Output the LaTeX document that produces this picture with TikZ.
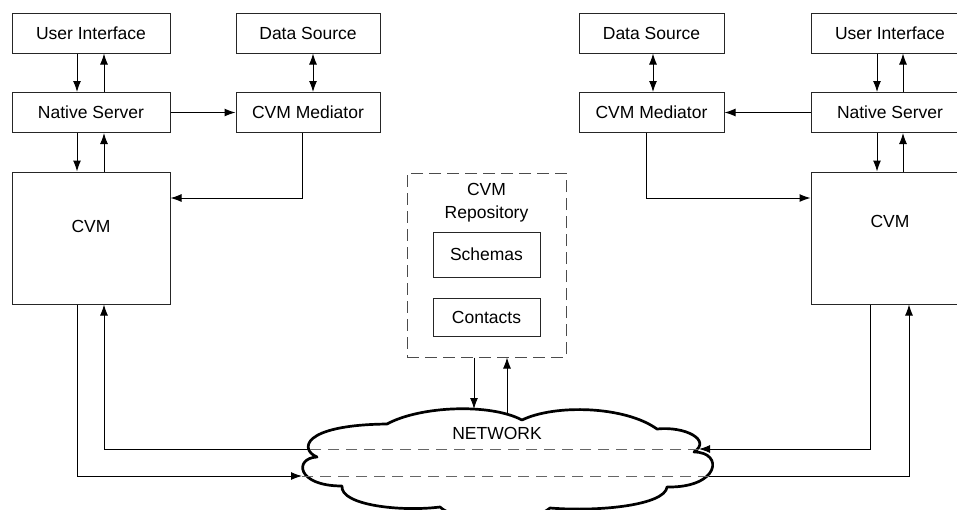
\documentclass[tikz,border=0pt]{standalone}
\usepackage{fontspec}
\setmainfont{Liberation Sans}
\usepackage{tikz}
\usetikzlibrary{arrows.meta}
\tikzset{
    mynode/.style={rectangle,draw=black!85,line width=1pt,fill=white,minimum width=158pt,minimum height=40pt,inner sep=0pt,text centered},
    mysmall/.style={mynode,minimum width=107pt},
    myarrow/.style={-{Latex[length=11pt,width=8pt]},line width=1pt},
    mydarrow/.style={{Latex[length=11pt,width=8pt]}-{Latex[length=11pt,width=8pt]},line width=1pt},
    mydash/.style={dash pattern=on 11pt off 7pt,draw=black!60,line width=1pt},
    mycloud/.style={draw=black,line width=2.7pt,fill=white,line join=round}
}

\begin{document}
\begin{tikzpicture}[x=1pt,y=-1pt,font=\fontsize{17.5}{23}\selectfont]
    \useasboundingbox (0,0) rectangle (957,509);
    \clip (0,0) rectangle (957,509);
    % left site
    \draw (91,33) node[mynode] (ui1) {User Interface};
    \draw (91,112.5) node[mynode] (ns1) {Native Server};
    \draw (91,238) node[mynode,minimum height=132pt,label={[yshift=12pt]center:CVM}] (cvm1) {};
    \draw (308,33) node[mynode,minimum width=144pt] (ds1) {Data Source};
    \draw (308,112.5) node[mynode,minimum width=144pt] (med1) {CVM Mediator};
    \draw[myarrow] ([xshift=-14pt]ui1.south) -- ([xshift=-14pt]ns1.north);
    \draw[myarrow] ([xshift=13pt]ns1.north) -- ([xshift=13pt]ui1.south);
    \draw[myarrow] ([xshift=-14pt]ns1.south) -- ([xshift=-14pt]cvm1.north);
    \draw[myarrow] ([xshift=13pt]cvm1.north) -- ([xshift=13pt]ns1.south);
    \draw[myarrow] (ns1) -- (med1);
    \draw[mydarrow] ([xshift=5pt]ds1.south) -- ([xshift=5pt]med1.north);
    \draw[myarrow] ([xshift=-6pt]med1.south) |- ([yshift=40pt]cvm1.east);
    % right site
    \draw (890,33) node[mynode] (ui2) {User Interface};
    \draw (890,112.5) node[mynode] (ns2) {Native Server};
    \draw (890,238) node[mynode,minimum height=132pt,label={[yshift=17pt]center:CVM}] (cvm2) {};
    \draw (651.5,33) node[mynode,minimum width=145pt] (ds2) {Data Source};
    \draw (651.5,112.5) node[mynode,minimum width=145pt] (med2) {CVM Mediator};
    \draw[myarrow] ([xshift=-13pt]ui2.south) -- ([xshift=-13pt]ns2.north);
    \draw[myarrow] ([xshift=13pt]ns2.north) -- ([xshift=13pt]ui2.south);
    \draw[myarrow] ([xshift=-13pt]ns2.south) -- ([xshift=-13pt]cvm2.north);
    \draw[myarrow] ([xshift=13pt]cvm2.north) -- ([xshift=13pt]ns2.south);
    \draw[myarrow] (ns2) -- (med2);
    \draw[mydarrow] ([xshift=1.5pt]ds2.south) -- ([xshift=1.5pt]med2.north);
    \draw[myarrow] ([xshift=-5.5pt]med2.south) |- ([yshift=40pt]cvm2.west);
    % repository
    \draw (486.5,265) node[mynode,dashed,dash pattern=on 12pt off 6pt,draw=black!70,minimum width=159pt,minimum height=184pt,
        label={[anchor=north,yshift=-11pt,inner sep=0pt,align=center]north:CVM\\Repository}] (repo) {};
    \draw (486.5,254.5) node[mysmall,minimum height=45pt] (schemas) {Schemas};
    \draw (486.5,317) node[mysmall,minimum height=38pt] (contacts) {Contacts};
    % network cloud
    \draw[mycloud] (387,424) .. controls (420,406) and (490,403) .. (522,420)
        .. controls (555,404) and (625,406) .. (657,429)
        .. controls (685,426) and (712,440) .. (694,452)
        .. controls (724,452) and (720,488) .. (667,487)
        .. controls (665,505) and (600,512) .. (550,508)
        .. controls (530,525) and (460,525) .. (440,507)
        .. controls (400,512) and (340,505) .. (342,486)
        .. controls (296,486) and (294,458) .. (317,457)
        .. controls (300,450) and (300,425) .. cycle;
    \draw (497,433) node (net) {NETWORK};
    \coordinate (inL) at (302,476);
    \coordinate (outL) at (310,449);
    \coordinate (inR) at (699,449);
    \coordinate (outR) at (709,476);
    \coordinate (topA) at (474,409);
    \coordinate (topB) at (507,413);
    \draw[mydash] (inR) -- (outL);
    \draw[mydash] (outR) -- (inL);
    \draw[myarrow] ([xshift=-14pt]cvm1.south) |- (inL);
    \draw[myarrow] (outL) -| ([xshift=13pt]cvm1.south);
    \draw[myarrow] ([xshift=-20pt]cvm2.south) |- (inR);
    \draw[myarrow] (outR) -| ([xshift=19pt]cvm2.south);
    \draw[myarrow] ([xshift=-12.5pt]repo.south) -- (topA);
    \draw[myarrow] (topB) -- ([xshift=20.5pt]repo.south);
\end{tikzpicture}
\end{document}
